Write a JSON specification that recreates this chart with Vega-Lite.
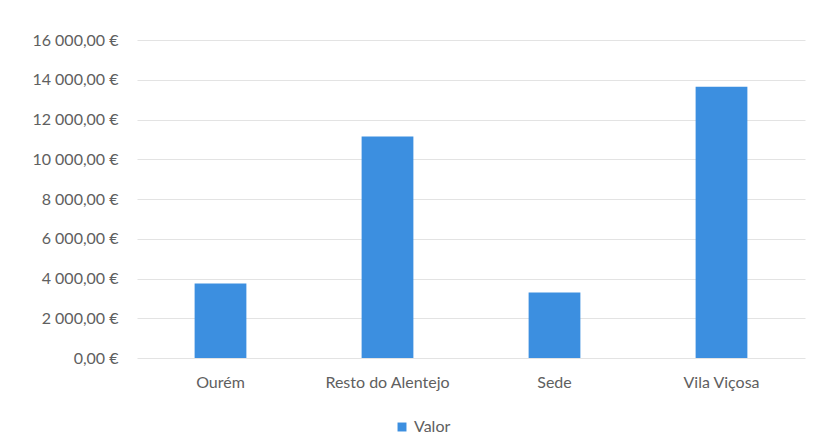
{
  "$schema": "https://vega.github.io/schema/vega-lite/v6.json",
  "autosize": {"type": "none"},
  "width": 668,
  "height": 318,
  "padding": {"left": 137, "top": 40, "right": 9, "bottom": 86},
  "background": "white",
  "config": {
    "locale": {"number": {"decimal": ",", "thousands": " ", "grouping": [3], "currency": ["", " €"]}},
    "view": {"stroke": null},
    "font": "Lato"
  },
  "data": {"values": [
    {"local": "Ourém", "valor": 3750, "serie": "Valor"},
    {"local": "Resto do Alentejo", "valor": 11150, "serie": "Valor"},
    {"local": "Sede", "valor": 3300, "serie": "Valor"},
    {"local": "Vila Viçosa", "valor": 13650, "serie": "Valor"}
  ]},
  "mark": {"type": "bar"},
  "encoding": {
    "x": {
      "field": "local", "type": "nominal", "sort": null,
      "scale": {"paddingInner": 0.69, "paddingOuter": 0.345},
      "axis": {"title": null, "labelAngle": 0, "ticks": false, "domain": false, "labelPadding": 16, "labelColor": "#606060", "labelFontSize": 16, "labelFont": "Lato"}
    },
    "y": {
      "field": "valor", "type": "quantitative",
      "scale": {"domain": [0, 16000]},
      "axis": {"title": null, "values": [0, 2000, 4000, 6000, 8000, 10000, 12000, 14000, 16000], "format": "$,.2f", "ticks": false, "domain": false, "labelPadding": 19, "labelColor": "#606060", "labelFontSize": 16, "labelFont": "Lato", "gridColor": "#e3e3e3", "gridWidth": 1}
    },
    "color": {
      "field": "serie", "type": "nominal",
      "scale": {"range": ["#3C8FE0"]},
      "legend": {"title": null, "orient": "none", "legendX": 257, "legendY": 379, "symbolType": "square", "symbolSize": 80, "symbolStrokeWidth": 0, "labelColor": "#606060", "labelFontSize": 16, "labelFont": "Lato", "labelOffset": 4}
    }
  }
}
